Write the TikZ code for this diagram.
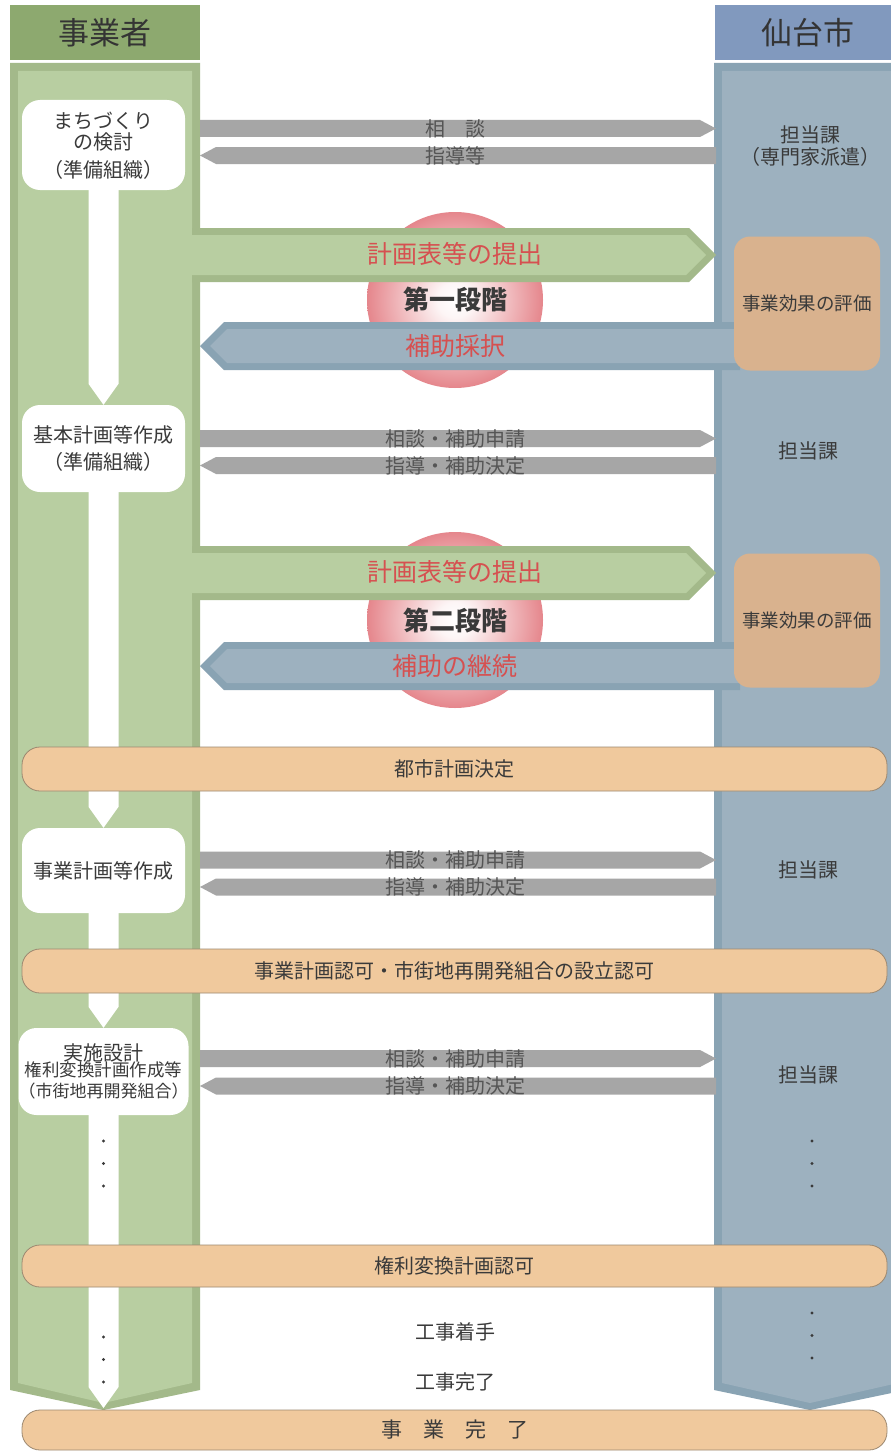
\documentclass[tikz,border=0pt]{standalone}
\usepackage{fontspec}
\setmainfont{Noto Sans CJK JP}
\usetikzlibrary{calc}
\definecolor{ghead}{HTML}{8DA96F}
\definecolor{gborder}{HTML}{A3B98A}
\definecolor{ginner}{HTML}{B8CEA1}
\definecolor{bhead}{HTML}{8199BE}
\definecolor{bborder}{HTML}{89A3B3}
\definecolor{binner}{HTML}{9DB1BF}
\definecolor{bandc}{HTML}{F0C99D}
\definecolor{bandline}{HTML}{9C8870}
\definecolor{evalc}{HTML}{D9B28E}
\definecolor{grayarr}{HTML}{A6A6A6}
\definecolor{redtxt}{HTML}{D65050}
\definecolor{pinkc}{HTML}{E5868C}
\definecolor{txt}{HTML}{3A3A3A}
\definecolor{graytxtc}{HTML}{555555}
\pgfdeclareradialshading{pinkball}{\pgfpoint{0bp}{0bp}}{color(0bp)=(white); color(5bp)=(white!92!pinkc); color(25bp)=(pinkc); color(50bp)=(pinkc)}
\pgfdeclarelayer{colayer}
\pgfdeclarelayer{stemlayer}
\pgfsetlayers{colayer,stemlayer,main}
\tikzset{
  headbox/.style={inner sep=0pt, text=txt!90!black, font=\fontsize{31}{34}\selectfont},
  wbox/.style={fill=white, rounded corners=18pt, align=center, text=txt, inner sep=0pt, minimum width=163pt},
  evalbox/.style={fill=evalc, rounded corners=16pt, text=txt, inner sep=0pt, minimum width=146pt, minimum height=134pt, font=\fontsize{18.5}{22}\selectfont},
  band/.style={draw=bandline, line width=0.8pt, fill=bandc, rounded corners=18pt, text=txt, inner sep=0pt, minimum width=865pt, font=\fontsize{20}{24}\selectfont},
  graytxt/.style={text=graytxtc, inner sep=0pt, font=\fontsize{20}{22}\selectfont},
  redlab/.style={text=redtxt, inner sep=0pt, font=\fontsize{25}{28}\selectfont},
  phase/.style={text=txt, inner sep=0pt, font=\fontsize{26}{30}\selectfont\bfseries},
  plain/.style={text=txt, inner sep=0pt, align=center, font=\fontsize{20}{22}\selectfont},
  dotc/.style={fill=txt},
}
\newcommand{\grayright}[3]{%
  \fill[grayarr] (200,#1-8.5) -- (700,#1-8.5) -- (716,#1) -- (700,#1+8.5) -- (200,#1+8.5) -- cycle;
  \node[graytxt] (#2) at (455,#1) {#3};}
\newcommand{\grayleft}[3]{%
  \fill[grayarr] (716,#1-8.5) -- (216,#1-8.5) -- (200,#1) -- (216,#1+8.5) -- (716,#1+8.5) -- cycle;
  \node[graytxt] (#2) at (455,#1) {#3};}
\newcommand{\greenarrow}[1]{%
  \fill[gborder] (192,#1-27) -- (689,#1-27) -- (716,#1) -- (689,#1+27) -- (192,#1+27) -- cycle;
  \fill[ginner] (185,#1-20) -- (686,#1-20) -- (706,#1) -- (686,#1+20) -- (185,#1+20) -- cycle;}
\newcommand{\bluearrow}[1]{%
  \fill[bborder] (740,#1-24) -- (224,#1-24) -- (200,#1) -- (224,#1+24) -- (740,#1+24) -- cycle;
  \fill[binner] (740,#1-17) -- (227,#1-17) -- (210,#1) -- (227,#1+17) -- (740,#1+17) -- cycle;}
\newcommand{\stemto}[2]{%
  \fill[white] ($(#1.south)+(-15,-5)$) -- ($(#2)+(-15,-21)$) -- (#2) -- ($(#2)+(15,-21)$) -- ($(#1.south)+(15,-5)$) -- cycle;}
\newcommand{\dotcol}[2]{%
  \fill[dotc] (#1,#2) circle[radius=1.7pt];
  \fill[dotc] (#1,#2+22.5) circle[radius=1.7pt];
  \fill[dotc] (#1,#2+45) circle[radius=1.7pt];}
\begin{document}
\begin{tikzpicture}[x=1pt,y=-1pt]
\clip (0,0) rectangle (891,1453);

% background and columns
\begin{pgfonlayer}{colayer}
\fill[white] (0,0) rectangle (891,1453);
\fill[gborder] (10,63) -- (200,63) -- (200,1390) -- (103.5,1410) -- (10,1390) -- cycle;
\fill[ginner] (18,71) -- (192,71) -- (192,1383) -- (103.5,1403) -- (18,1383) -- cycle;
\fill[bborder] (714,63) -- (906,63) -- (906,1390) -- (810,1410) -- (714,1390) -- cycle;
\fill[binner] (722,71) -- (898,71) -- (898,1383) -- (810,1403) -- (722,1383) -- cycle;
\end{pgfonlayer}

% headers
\node[headbox, fill=ghead, minimum width=190pt, minimum height=55pt] (hL) at (105,32.5) {事業者};
\node[headbox, fill=bhead, minimum width=186pt, minimum height=55pt] (hR) at (808,32.5) {仙台市};

% phase circles
\shade[shading=pinkball] (455,300) circle[radius=88pt];
\shade[shading=pinkball] (455,620) circle[radius=88pt];

% phase arrows
\greenarrow{255}
\bluearrow{346}
\greenarrow{573}
\bluearrow{666}
\node[redlab] (p1a) at (455,254) {計画表等の提出};
\node[phase] (p1) at (455,300) {第一段階};
\node[redlab] (p1b) at (455,346) {補助採択};
\node[redlab] (p2a) at (455,572) {計画表等の提出};
\node[phase] (p2) at (455,621) {第二段階};
\node[redlab] (p2b) at (455,666) {補助の継続};

% gray arrows
\grayright{128.5}{g1a}{相　談}
\grayleft{155.5}{g1b}{指導等}
\grayright{438.5}{g2a}{相談・補助申請}
\grayleft{465.5}{g2b}{指導・補助決定}
\grayright{860}{g3a}{相談・補助申請}
\grayleft{887}{g3b}{指導・補助決定}
\grayright{1058.5}{g4a}{相談・補助申請}
\grayleft{1086}{g4b}{指導・補助決定}

% evaluation boxes
\node[evalbox] (e1) at (807,303.5) {事業効果の評価};
\node[evalbox] (e2) at (807,620.5) {事業効果の評価};

% left nodes
\node[wbox, minimum height=90pt, font=\fontsize{20}{21}\selectfont, text depth=-6pt] (n1) at (103.5,145) {まちづくり\\の検討\\[7pt]（準備組織）};
\node[wbox, minimum height=87pt, font=\fontsize{20}{27}\selectfont] (n2) at (103.5,448.5) {基本計画等作成\\（準備組織）};
\node[wbox, minimum height=85pt, font=\fontsize{20}{24}\selectfont] (n3) at (103.5,870.5) {事業計画等作成};
\node[wbox, minimum height=87pt] (n4) at (103.5,1071.5) {{\fontsize{20}{21}\selectfont 実施設計}\\[-1pt]{\fontsize{17.5}{21}\selectfont 権利変換計画作成等}\\[4pt]{\fontsize{17}{20}\selectfont （市街地再開発組合）}};
\coordinate (endL) at (103.5,1408);

% stems
\begin{pgfonlayer}{stemlayer}
\stemto{n1}{n2.north}
\stemto{n2}{n3.north}
\stemto{n3}{n4.north}
\stemto{n4}{endL}
\end{pgfonlayer}

% right texts
\node[plain, font=\fontsize{20}{22}\selectfont] (r1) at (810,146) {担当課\\（専門家派遣）};
\node[plain] (r2) at (808,451) {担当課};
\node[plain] (r3) at (808,870) {担当課};
\node[plain] (r4) at (808,1075) {担当課};

% bands
\node[band, minimum height=44pt] (b1) at (454.5,769) {都市計画決定};
\node[band, minimum height=44pt] (b2) at (454.5,971) {事業計画認可・市街地再開発組合の設立認可};
\node[band, minimum height=42pt] (b3) at (454.5,1266) {権利変換計画認可};
\node[band, minimum height=40pt, font=\fontsize{21}{24}\selectfont] (b4) at (454.5,1430) {事　業　完　了};

% misc
\node[plain] (k1) at (455,1332) {工事着手};
\node[plain] (k2) at (455,1382) {工事完了};
\dotcol{103.5}{1141}
\dotcol{103.5}{1337}
\dotcol{812}{1141}
\dotcol{812}{1313}
\end{tikzpicture}
\end{document}
